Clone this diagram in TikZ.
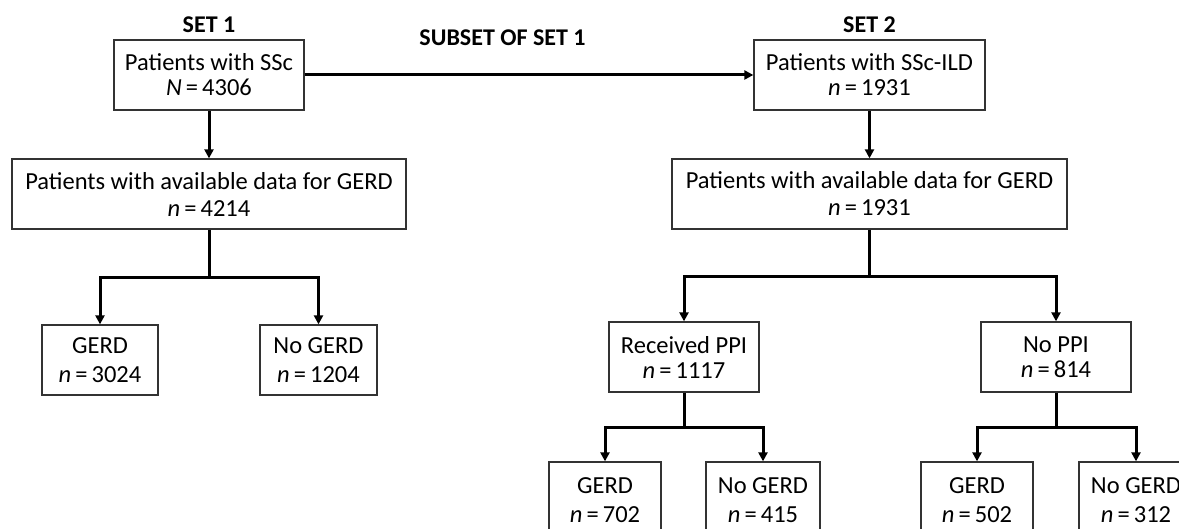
\documentclass[tikz,border=0pt]{standalone}
\usepackage{fontspec}
\setmainfont{Carlito}
\usetikzlibrary{arrows.meta}
\begin{document}
\begin{tikzpicture}[x=1pt,y=-1pt,
  box/.style={draw=black!80, line width=1.3pt, align=center, inner sep=0pt, minimum height=70pt, font=\fontsize{24.5}{25}\selectfont},
  wbox/.style={box, font=\fontsize{24.5}{29}\selectfont},
  conn/.style={line width=3pt, -{Triangle[length=9pt,width=9pt]}},
  stem/.style={line width=3pt},
  lbl/.style={font=\fontsize{24}{25}\selectfont\bfseries, inner sep=0pt}]
\useasboundingbox (0,0) rectangle (1179,529);
\clip (0,0) rectangle (1179,529);
% labels
\node[lbl] (set1) at (209,25) {SET 1};
\node[lbl] (sub) at (502.5,38) {SUBSET OF SET 1};
\node[lbl] (set2) at (869.5,25) {SET 2};
% top boxes
\node[box, minimum width=190pt] (A) at (209,75) {Patients with SSc\\\textit{N}\,=\,4306};
\node[box, minimum width=231pt] (B) at (869.5,75) {Patients with SSc-ILD\\\textit{n}\,=\,1931};
\node[box, minimum width=394pt, font=\fontsize{24.5}{27}\selectfont] (C) at (209,194) {Patients with available data for GERD\\\textit{n}\,=\,4214};
\node[box, minimum width=395pt, font=\fontsize{24.5}{27}\selectfont] (D) at (869.5,194) {Patients with available data for GERD\\\textit{n}\,=\,1931};
% set 1 leaves
\node[wbox, minimum width=116pt] (G1) at (100,360) {GERD\\\textit{n}\,=\,3024};
\node[wbox, minimum width=117pt] (N1) at (318.5,360) {No GERD\\\textit{n}\,=\,1204};
% set 2 middle
\node[box, minimum width=150pt] (R) at (684,357) {Received PPI\\\textit{n}\,=\,1117};
\node[box, minimum width=150pt] (P) at (1056,357) {No PPI\\\textit{n}\,=\,814};
% set 2 leaves
\node[wbox, minimum width=112pt, minimum height=76pt] (G2) at (605,500) {GERD\\\textit{n}\,=\,702};
\node[wbox, minimum width=114pt, minimum height=76pt] (N2) at (763,500) {No GERD\\\textit{n}\,=\,415};
\node[wbox, minimum width=112pt, minimum height=76pt] (G3) at (977,500) {GERD\\\textit{n}\,=\,502};
\node[wbox, minimum width=114pt, minimum height=76pt] (N3) at (1136,500) {No GERD\\\textit{n}\,=\,312};
% connectors
\draw[conn] (A.east) -- (B.west);
\draw[conn] (A.south) -- (C.north);
\draw[conn] (B.south) -- (D.north);
\draw[stem] (C.south) -- ++(0,48) coordinate (cj);
\draw[conn] (cj) -| (G1.north);
\draw[conn] (cj) -| (N1.north);
\draw[stem] (D.south) -- ++(0,47) coordinate (dj);
\draw[conn] (dj) -| (R.north);
\draw[conn] (dj) -| (P.north);
\draw[stem] (R.south) -- ++(0,35) coordinate (rj);
\draw[conn] (rj) -| (G2.north);
\draw[conn] (rj) -| (N2.north);
\draw[stem] (P.south) -- ++(0,35) coordinate (pj);
\draw[conn] (pj) -| (G3.north);
\draw[conn] (pj) -| (N3.north);
\end{tikzpicture}
\end{document}
